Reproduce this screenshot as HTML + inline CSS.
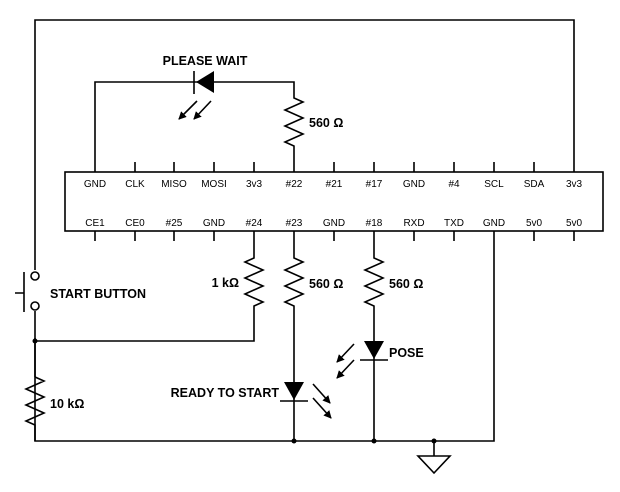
<!DOCTYPE html>
<html><head><style>
body{margin:0;background:#fff;}
svg text{font-family:"Liberation Sans",Arial,sans-serif;}
</style></head><body>
<svg width="620" height="487" viewBox="0 0 620 487" xmlns="http://www.w3.org/2000/svg">
<defs>
<marker id="ah" markerWidth="8" markerHeight="8" refX="7" refY="4" orient="auto" markerUnits="userSpaceOnUse"><path d="M0,0 L8,4 L0,8 z" fill="#000"/></marker>
</defs>
<g stroke="#000" stroke-width="1.6" fill="none">
<rect x="65" y="172" width="538" height="59"/>
<path d="M135 162V172M174 162V172M214 162V172M254 162V172M334 162V172M374 162V172M414 162V172M454 162V172M494 162V172M534 162V172"/>
<path d="M95 231V241M135 231V241M174 231V241M214 231V241M334 231V241M414 231V241M454 231V241M534 231V241M574 231V241"/>
<path d="M574 172V20H35V270"/>
<circle cx="35" cy="276" r="4" fill="#fff"/>
<circle cx="35" cy="306" r="4" fill="#fff"/>
<path d="M35 311V441H494V231"/>
<path d="M24 272V312M15 293H24"/>
<path d="M35 338V377"/>
<path d="M35 377L44 381L26 389L44 397L26 405L44 413L26 421L35 425V441"/>
<path d="M35 341H254V306L263 302L245 294L263 286L245 278L263 270L245 262L254 258V231"/>
<path d="M294 231V258L303 262L285 270L303 278L285 286L303 294L285 302L294 306V441"/>
<path d="M280 401H308"/>
<path d="M374 231V258L383 262L365 270L383 278L365 286L383 294L365 302L374 306V441"/>
<path d="M360 360H388"/>
<path d="M95 172V82H294V98L303 102L285 110L303 118L285 126L303 134L285 142L294 146V172"/>
<path d="M194 71V94"/>
<path d="M434 441V456"/>
<path d="M418 456H450L434 473Z"/>
<path d="M211 101L194 119" marker-end="url(#ah)"/>
<path d="M197 101L179 119" marker-end="url(#ah)"/>
<path d="M313 384L330 403" marker-end="url(#ah)"/>
<path d="M313 398L331 418" marker-end="url(#ah)"/>
<path d="M354 344L337 362" marker-end="url(#ah)"/>
<path d="M354 360L337 378" marker-end="url(#ah)"/>
</g>
<g fill="#000">
<path d="M196 82L214 71V93Z"/>
<path d="M284 382H304L294 400Z"/>
<path d="M364 341H384L374 359Z"/>
<circle cx="35" cy="341" r="2.5"/>
<circle cx="294" cy="441" r="2.5"/>
<circle cx="374" cy="441" r="2.5"/>
<circle cx="434" cy="441" r="2.5"/>
</g>
<g font-size="10" text-anchor="middle" fill="#000">
<text x="95" y="187">GND</text><text x="135" y="187">CLK</text><text x="174" y="187">MISO</text><text x="214" y="187">MOSI</text><text x="254" y="187">3v3</text><text x="294" y="187">#22</text><text x="334" y="187">#21</text><text x="374" y="187">#17</text><text x="414" y="187">GND</text><text x="454" y="187">#4</text><text x="494" y="187">SCL</text><text x="534" y="187">SDA</text><text x="574" y="187">3v3</text>
<text x="95" y="226">CE1</text><text x="135" y="226">CE0</text><text x="174" y="226">#25</text><text x="214" y="226">GND</text><text x="254" y="226">#24</text><text x="294" y="226">#23</text><text x="334" y="226">GND</text><text x="374" y="226">#18</text><text x="414" y="226">RXD</text><text x="454" y="226">TXD</text><text x="494" y="226">GND</text><text x="534" y="226">5v0</text><text x="574" y="226">5v0</text>
</g>
<g font-size="12.5" font-weight="bold" fill="#000">
<text x="205" y="65" text-anchor="middle">PLEASE WAIT</text>
<text x="309" y="127">560 Ω</text>
<text x="50" y="298">START BUTTON</text>
<text x="239" y="287" text-anchor="end">1 kΩ</text>
<text x="309" y="288">560 Ω</text>
<text x="389" y="288">560 Ω</text>
<text x="389" y="357">POSE</text>
<text x="279" y="397" text-anchor="end">READY TO START</text>
<text x="50" y="408">10 kΩ</text>
</g>
</svg>
</body></html>
